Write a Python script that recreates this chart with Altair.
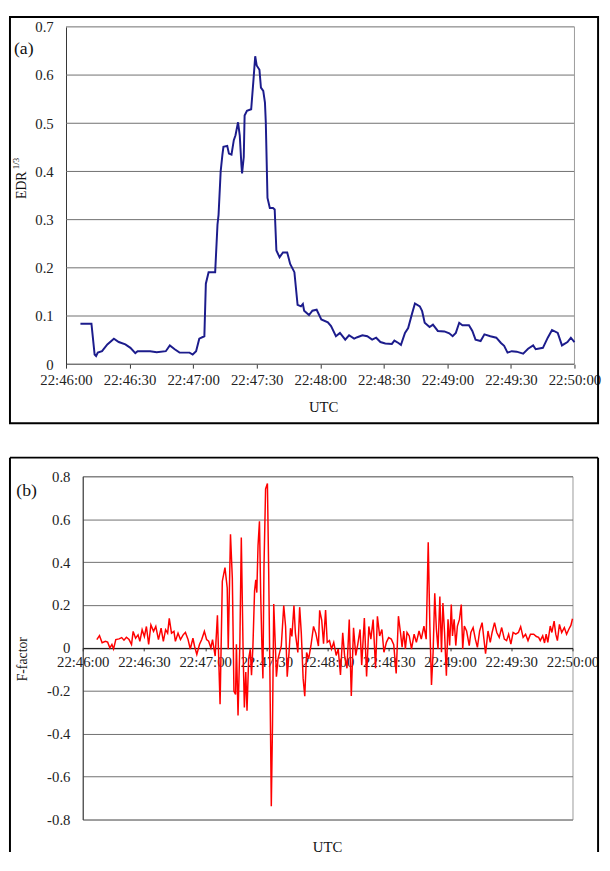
import altair as alt
import pandas as pd

# ---------------- data ----------------
tick_secs = [0, 30, 60, 90, 120, 150, 180, 210, 240]
tick_labels = ["22:46:00", "22:46:30", "22:47:00", "22:47:30", "22:48:00",
               "22:48:30", "22:49:00", "22:49:30", "22:50:00"]

edr_ticks = [0, 0.1, 0.2, 0.3, 0.4, 0.5, 0.6, 0.7]
ff_ticks = [-0.8, -0.6, -0.4, -0.2, 0, 0.2, 0.4, 0.6, 0.8]

# seconds after 22:46:00
edr_t = [6.8, 12.0, 13.5, 14.2, 15.0, 17.0, 19.5, 22.6, 24.9, 28.0,
         30.4, 32.7, 33.8, 39.7, 42.8, 47.1, 49.0, 51.3, 53.6, 58.3,
         59.8, 61.4, 62.9, 65.3, 66.0, 67.3, 70.4, 71.5, 72.0, 73.0,
         73.8, 74.3, 76.1, 76.9, 78.1, 79.2, 80.0, 81.2, 82.0, 82.8,
         83.1, 83.9, 84.3, 85.4, 87.4, 88.5, 89.3, 90.0, 91.3, 92.0,
         93.1, 93.9, 94.3, 95.1, 96.2, 97.7, 98.5, 99.3, 100.8, 102.4,
         104.4, 105.8, 107.8, 109.3, 110.9, 111.8, 112.4, 114.7, 116.3, 118.3,
         120.5, 123.6, 125.1, 127.4, 129.3, 131.8, 133.6, 136.0, 137.5, 139.9,
         142.2, 144.5, 146.4, 148.4, 150.7, 153.8, 155.0, 156.9, 158.1, 160.0,
         161.5, 163.4, 164.7, 167.0, 168.1, 169.3, 171.6, 173.2, 175.5, 178.6,
         180.9, 182.5, 184.0, 185.6, 187.1, 190.2, 191.8, 193.3, 195.7, 197.5,
         200.3, 203.1, 205.3, 206.8, 208.4, 210.4, 212.7, 215.8, 218.1, 220.5,
         221.7, 225.1, 227.4, 229.4, 232.1, 234.1, 236.7, 238.3, 240.0]
edr_v = [0.084, 0.084, 0.020, 0.017, 0.024, 0.027, 0.041, 0.053, 0.046, 0.041,
         0.034, 0.023, 0.027, 0.027, 0.025, 0.027, 0.039, 0.031, 0.024, 0.024,
         0.020, 0.027, 0.053, 0.058, 0.167, 0.191, 0.191, 0.290, 0.310, 0.400,
         0.434, 0.451, 0.453, 0.437, 0.435, 0.465, 0.475, 0.502, 0.475, 0.413,
         0.396, 0.430, 0.516, 0.526, 0.529, 0.591, 0.639, 0.620, 0.611, 0.574,
         0.567, 0.543, 0.502, 0.345, 0.324, 0.324, 0.321, 0.236, 0.222, 0.232,
         0.232, 0.208, 0.191, 0.123, 0.120, 0.125, 0.111, 0.102, 0.111, 0.113,
         0.093, 0.087, 0.079, 0.058, 0.065, 0.051, 0.060, 0.053, 0.056, 0.060,
         0.058, 0.051, 0.055, 0.046, 0.043, 0.042, 0.049, 0.044, 0.040, 0.065,
         0.075, 0.106, 0.126, 0.120, 0.110, 0.086, 0.077, 0.082, 0.069, 0.068,
         0.064, 0.058, 0.065, 0.086, 0.081, 0.081, 0.069, 0.051, 0.048, 0.062,
         0.058, 0.055, 0.044, 0.038, 0.024, 0.027, 0.026, 0.022, 0.032, 0.039,
         0.031, 0.034, 0.055, 0.071, 0.065, 0.039, 0.046, 0.055, 0.046]

ff_t = [6.9, 8.2, 9.5, 11.1, 12.2, 13.3, 14.3, 15.1, 16.2, 17.8,
        19.1, 20.2, 21.4, 22.7, 23.9, 24.7, 25.9, 27.1, 28.0, 29.1,
        30.2, 31.2, 32.3, 33.4, 34.7, 35.8, 37.1, 38.4, 39.5, 40.6,
        41.6, 42.4, 43.5, 44.7, 45.4, 46.7, 47.9, 49.2, 50.3, 51.6,
        52.7, 54.0, 54.8, 55.9, 57.2, 58.3, 59.6, 60.7, 61.7, 62.8,
        63.6, 64.9, 66.0, 67.3, 68.4, 69.7, 70.8, 71.3, 72.4, 73.3,
        74.1, 74.9, 75.3, 76.1, 77.0, 77.7, 78.6, 79.2, 79.9, 80.5,
        81.3, 82.1, 82.7, 83.4, 84.2, 84.8, 85.3, 85.9, 86.6, 87.2,
        87.8, 88.3, 88.8, 89.6, 90.5, 91.1, 91.7, 92.4, 93.0, 93.6,
        94.5, 94.9, 95.7, 96.5, 97.3, 98.5, 99.4, 100.2, 101.1, 101.8,
        102.5, 103.5, 104.2, 105.4, 106.3, 107.1, 108.0, 108.8, 109.7, 110.7,
        111.8, 113.1, 114.2, 115.5, 116.1, 117.1, 118.0, 119.0, 119.8, 120.9,
        121.9, 123.0, 124.2, 125.2, 126.3, 127.4, 128.3, 129.5, 130.6, 131.6,
        132.7, 133.8, 134.8, 135.9, 136.7, 138.0, 139.1, 140.2, 141.2, 142.3,
        143.5, 144.4, 145.5, 146.6, 147.6, 148.8, 149.9, 151.2, 152.4, 153.6,
        154.7, 155.7, 156.5, 157.3, 158.1, 158.9, 160.0, 161.1, 162.4, 163.5,
        164.8, 165.9, 167.2, 168.3, 169.3, 170.1, 170.9, 171.7, 172.5, 173.3,
        174.1, 175.0, 175.8, 176.5, 177.3, 178.2, 179.0, 179.8, 180.6, 181.2,
        182.0, 182.8, 183.6, 184.6, 185.5, 186.2, 187.0, 188.1, 189.4, 190.2,
        191.3, 192.4, 193.4, 194.5, 195.7, 196.6, 197.4, 198.6, 199.7, 200.6,
        201.8, 202.9, 204.1, 205.3, 206.6, 207.7, 208.7, 209.8, 210.9, 212.2,
        213.5, 214.6, 215.8, 217.0, 218.2, 219.4, 221.0, 222.3, 223.4, 224.2,
        225.4, 226.3, 227.1, 227.9, 229.1, 229.9, 231.0, 231.8, 232.6, 233.6,
        234.7, 236.0, 237.1, 238.2, 239.2, 240.0]
ff_v = [0.039, 0.057, 0.024, 0.031, 0.027, 0.000, 0.016, -0.005, 0.039, 0.042,
        0.048, 0.036, 0.050, 0.039, 0.016, 0.077, 0.045, 0.061, 0.031, 0.085,
        0.053, 0.100, 0.016, 0.107, 0.077, 0.100, 0.039, 0.092, 0.031, 0.085,
        0.069, 0.138, 0.069, 0.077, 0.031, 0.069, 0.039, 0.061, 0.072, 0.039,
        -0.005, 0.045, 0.008, -0.030, 0.016, 0.039, 0.077, 0.039, 0.031, 0.000,
        0.039, -0.038, 0.152, -0.263, 0.311, 0.374, 0.280, -0.006, 0.530, 0.326,
        -0.202, -0.217, 0.017, -0.315, 0.024, 0.515, -0.021, -0.278, -0.112, -0.293,
        -0.051, -0.006, -0.127, 0.009, 0.266, 0.318, 0.258, 0.477, 0.590, 0.250,
        0.009, -0.142, 0.371, 0.741, 0.767, 0.371, -0.097, -0.738, -0.353, 0.205,
        -0.021, -0.134, -0.051, -0.021, 0.009, 0.198, 0.100, -0.134, -0.021, 0.092,
        0.054, 0.198, 0.069, -0.021, 0.190, 0.069, -0.142, -0.225, -0.021, -0.051,
        0.009, 0.100, 0.069, 0.009, 0.175, 0.130, 0.020, 0.177, 0.026, 0.034,
        -0.005, 0.026, -0.035, -0.005, -0.126, 0.071, -0.035, -0.095, 0.132, -0.224,
        0.094, -0.035, 0.018, 0.086, -0.080, 0.139, -0.133, 0.100, 0.041, 0.132,
        -0.095, 0.147, 0.056, 0.086, -0.020, 0.026, 0.048, 0.041, 0.015, -0.119,
        0.148, 0.072, 0.003, 0.079, -0.005, 0.072, 0.056, -0.005, 0.064, 0.026,
        0.079, 0.041, 0.102, 0.041, 0.492, 0.102, -0.173, -0.020, 0.255, 0.087,
        -0.005, 0.240, -0.020, 0.209, 0.072, -0.130, 0.133, 0.011, 0.202, 0.056,
        0.133, 0.011, 0.102, 0.133, 0.202, -0.005, 0.102, 0.079, 0.011, 0.072,
        0.095, 0.041, 0.003, 0.079, 0.118, 0.041, -0.027, 0.079, 0.026, 0.072,
        0.118, 0.072, 0.049, 0.095, 0.041, 0.034, 0.064, 0.018, 0.072, 0.064,
        0.072, 0.099, 0.049, 0.064, 0.034, 0.064, 0.064, 0.053, 0.049, 0.034,
        0.056, 0.023, 0.064, 0.026, 0.102, 0.072, 0.125, 0.064, 0.034, 0.110,
        0.072, 0.095, 0.064, 0.087, 0.105, 0.136]

edr_df = pd.DataFrame({"t": edr_t, "v": edr_v})
ff_df = pd.DataFrame({"t": ff_t, "v": ff_v})
grid_a_df = pd.DataFrame({"v": edr_ticks[1:]})
base_a_df = pd.DataFrame({"v": edr_ticks[:1]})
dummy = pd.DataFrame({"d": [0]})

FONT = "Liberation Serif"
GRID = "#6e6e6e"
label_expr = "[" + ",".join("'%s'" % s for s in tick_labels) + "][round(datum.value/30)]"
num_expr = "replace(format(datum.value, '.1~f'), '\u2212', '-')"

# both panels share the plot origin (concat aligns them); panel (a)'s
# plot actually starts 17px further left, handled via its scale range.
SHIFT = 17
W_A, H_A = 500, 343
W_B, H_B = 498, 349
B_BOTTOM = 382


def txt(text, x, y, size=15, angle=0):
    m = alt.Chart(dummy).mark_text(text=text, font=FONT, fontSize=size, color="#111",
                                   align="center", baseline="middle", angle=angle)
    return m.encode(x=alt.value(x), y=alt.value(y))


# ---------------- panel (a) ----------------
x_a = alt.X("t:Q", scale=alt.Scale(domain=[0, 240], nice=False, zero=False,
                                   range=[-SHIFT, W_A]),
            axis=alt.Axis(values=tick_secs, labelExpr=label_expr, title=None, grid=False,
                          domain=False, tickSize=4, labelPadding=5, labelOverlap=False,
                          labelFlush=False, tickColor="#333", zindex=0))
y_a = alt.Y("v:Q", scale=alt.Scale(domain=[0, 0.7], nice=False, zero=False),
            axis=alt.Axis(values=edr_ticks, labelExpr=num_expr, title=None, grid=False,
                          ticks=False, labelPadding=13, offset=SHIFT,
                          domainColor="#333", zindex=0))

grid_a = alt.Chart(grid_a_df).mark_rule(color=GRID, strokeWidth=1).encode(
    y=y_a, x=alt.value(-SHIFT), x2=alt.value(W_A))
base_a = alt.Chart(base_a_df).mark_rule(color="#333", strokeWidth=1).encode(
    y=y_a, x=alt.value(-SHIFT), x2=alt.value(W_A))
right_a = alt.Chart(dummy).mark_rule(color="#9a9a9a", strokeWidth=1).encode(
    x=alt.value(W_A), y=alt.value(0), y2=alt.value(H_A))
line_a = alt.Chart(edr_df).mark_line(color="#1c1c8c", strokeWidth=2).encode(x=x_a, y=y_a)
frame_a = alt.Chart(dummy).mark_rect(fillOpacity=0, stroke="black", strokeWidth=2).encode(
    x=alt.value(-74), x2=alt.value(524), y=alt.value(-10), y2=alt.value(403))

panel_a = alt.layer(
    frame_a, grid_a, right_a, base_a, line_a,
    txt("(a)", -60, 23, size=18),
    txt("EDR", -62, 161, size=14, angle=270),
    txt("1/3", -68, 139, size=9, angle=270),
    txt("UTC", 245, 387, size=15),
).properties(width=W_A, height=H_A, view=alt.ViewConfig(stroke="transparent"))

# ---------------- panel (b) ----------------
x_b = alt.X("t:Q", scale=alt.Scale(domain=[0, 240], nice=False, zero=False),
            axis=alt.Axis(values=tick_secs, labelExpr=label_expr, title=None, grid=False,
                          tickSize=3, labelPadding=4, labelOverlap=False, labelFlush=False,
                          offset=-H_B / 2, domainColor="#111", tickColor="#333", zindex=0))
y_b = alt.Y("v:Q", scale=alt.Scale(domain=[-0.8, 0.8], nice=False, zero=False),
            axis=alt.Axis(values=ff_ticks, labelExpr=num_expr, title=None, grid=True,
                          ticks=False, labelPadding=13, domainColor="#333", zindex=0))

line_b = alt.Chart(ff_df).mark_line(color="#ff0000", strokeWidth=1.5).encode(x=x_b, y=y_b)
rule_l = alt.Chart(dummy).mark_rule(color="black", strokeWidth=2).encode(
    x=alt.value(-74), y=alt.value(-19), y2=alt.value(B_BOTTOM))
rule_t = alt.Chart(dummy).mark_rule(color="black", strokeWidth=2).encode(
    x=alt.value(-74), x2=alt.value(524), y=alt.value(-19))
rule_r = alt.Chart(dummy).mark_rule(color="black", strokeWidth=2).encode(
    x=alt.value(524), y=alt.value(-19), y2=alt.value(B_BOTTOM))

panel_b = alt.layer(
    rule_l, rule_t, rule_r, line_b,
    txt("(b)", -57, 15, size=18),
    txt("F-factor", -61, 186, size=14, angle=270),
    txt("UTC", 249, 377, size=15),
).properties(width=W_B, height=H_B)

chart = alt.vconcat(panel_a, panel_b, spacing=31).properties(
    padding={"left": 0, "top": 0, "right": 0, "bottom": 0}, background="white"
).configure_view(
    stroke="#9a9a9a", strokeWidth=1
).configure_axis(
    labelFont=FONT, labelFontSize=15, labelColor="#222",
    gridColor=GRID, gridWidth=1
)

chart.save("out.html", embed_options={"renderer": "svg", "actions": False})
